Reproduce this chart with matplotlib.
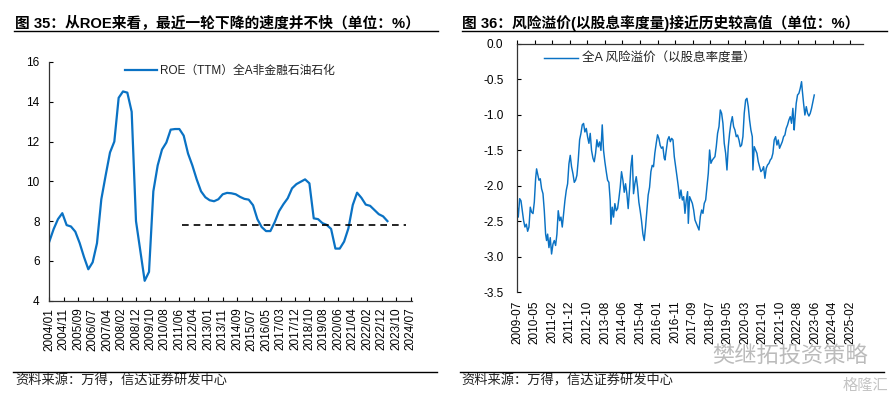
import matplotlib
matplotlib.use("Agg")
import matplotlib.pyplot as plt
from matplotlib.ticker import FormatStrFormatter
import numpy as np

plt.rcParams["font.family"] = ["Liberation Sans", "Noto Sans CJK SC"]
plt.rcParams["axes.unicode_minus"] = True

# ---- left chart: ROE (TTM), quarterly from 2004/01 ----
roe_values = [
    6.97, 7.6, 8.1, 8.4, 7.8, 7.73, 7.47, 6.9, 6.2, 5.58,
    5.93, 6.89, 9.1, 10.3, 11.45, 12.0, 14.2, 14.52, 14.46, 13.5,
    8.0, 6.5, 5.0, 5.45, 9.5, 10.8, 11.6, 11.95, 12.6, 12.63,
    12.63, 12.3, 11.4, 10.8, 10.1, 9.5, 9.2, 9.05, 9.0, 9.1,
    9.35, 9.42, 9.4, 9.35, 9.22, 9.12, 9.08, 8.8, 8.1, 7.7,
    7.5, 7.5, 7.95, 8.5, 8.85, 9.15, 9.65, 9.86, 9.98, 10.1,
    9.9, 8.14, 8.1, 7.9, 7.81, 7.61, 6.62, 6.62, 6.97, 7.64,
    8.81, 9.43, 9.17, 8.83, 8.77, 8.56, 8.35, 8.24, 8.0,
]
roe_months = np.arange(len(roe_values)) * 3  # months since 2004/01
roe_ref_level = 7.83
roe_ref_span = [92, 247]
roe_ticklabels = [
    "2004/01", "2004/11", "2005/09", "2006/07", "2007/04", "2008/02",
    "2008/12", "2009/10", "2010/08", "2011/06", "2012/04", "2013/01",
    "2013/11", "2014/09", "2015/07", "2016/05", "2017/03", "2017/12",
    "2018/10", "2019/08", "2020/06", "2021/04", "2022/02", "2022/12",
    "2023/10", "2024/07",
]

# ---- right chart: equity risk premium (dividend yield), trading days from 2009-07 ----
rp_days = [
    0, 11, 27, 42, 57, 72, 87, 103, 118, 133,
    148, 163, 179, 194, 209, 220, 232, 247, 262, 277,
    293, 308, 323, 334, 346, 361, 376, 391, 407, 422,
    437, 452, 467, 483, 498, 513, 528, 543, 559, 574,
    589, 604, 619, 635, 650, 665, 680, 695, 711, 726,
    741, 756, 771, 787, 802, 817, 832, 847, 863, 878,
    893, 908, 923, 939, 954, 969, 984, 999, 1015, 1030,
    1045, 1060, 1068, 1083, 1098, 1113, 1129, 1144, 1159, 1174,
    1189, 1205, 1220, 1235, 1250, 1265, 1281, 1296, 1311, 1326,
    1341, 1357, 1372, 1387, 1402, 1417, 1433, 1448, 1463, 1478,
    1493, 1509, 1524, 1539, 1554, 1569, 1585, 1600, 1615, 1630,
    1645, 1661, 1676,
    1685, 1700, 1715, 1731, 1746, 1761, 1776, 1791, 1807, 1822,
    1837, 1852, 1867, 1883, 1898, 1913, 1928, 1943, 1951, 1966,
    1981, 1997, 2012, 2027, 2042, 2057, 2073, 2088, 2103, 2118,
    2133, 2149, 2164, 2179, 2194, 2209, 2225, 2240, 2255, 2270,
    2285, 2301, 2316, 2331, 2346, 2361, 2377, 2392, 2407, 2422,
    2437, 2453, 2468, 2483, 2498, 2513, 2529, 2544, 2559, 2574,
    2589, 2605, 2620, 2635, 2650, 2665, 2681, 2688, 2703, 2719,
    2734, 2749, 2764, 2779, 2795, 2810, 2825, 2840, 2855, 2871,
    2886, 2901, 2916, 2931, 2947, 2962, 2977, 2992, 3007, 3023,
    3038, 3053, 3068, 3083, 3099, 3114, 3129, 3144, 3159, 3167,
    3182, 3197, 3213, 3228, 3243, 3251, 3266, 3281, 3297, 3312,
    3327, 3342, 3357, 3373, 3388,
]
rp_values = [
    -2.30, -2.44, -2.18, -2.21, -2.35, -2.49, -2.58, -2.54, -2.64, -2.58,
    -2.30, -2.37, -2.39, -2.23, -1.90, -1.76, -1.83, -1.92, -1.90, -2.04,
    -2.11, -2.35, -2.68, -2.77, -2.68, -2.87, -2.73, -2.96, -2.82, -2.77,
    -2.84, -2.68, -2.35, -2.49, -2.44, -2.58, -2.39, -2.21, -2.06, -1.97,
    -1.69, -1.57, -1.73, -1.83, -1.95, -1.92, -1.85, -1.64, -1.35, -1.26,
    -1.14, -1.12, -1.24, -1.19, -1.31, -1.40, -1.26, -1.50, -1.61, -1.66,
    -1.54, -1.35, -1.45, -1.38, -1.50, -1.14, -1.50, -1.66, -1.80, -1.92,
    -1.95, -2.21, -2.54, -2.30, -2.44, -2.25, -2.35, -2.32, -2.18, -2.02,
    -1.80, -1.92, -2.09, -1.97, -2.11, -2.32, -2.04, -1.73, -1.57, -2.11,
    -1.97, -1.87, -2.02, -2.23, -2.35, -2.49, -2.68, -2.77, -2.58, -2.35,
    -2.13, -2.02, -1.80, -1.71, -1.73, -1.54, -1.40, -1.28, -1.33, -1.43,
    -1.47, -1.45, -1.61,
    -1.635, -1.494, -1.353, -1.306, -1.377, -1.330, -1.353, -1.588, -1.729, -1.870,
    -2.011, -2.175, -2.058, -2.199, -2.152, -2.387, -2.199, -2.081, -2.528, -2.152,
    -2.199, -2.246, -2.340, -2.481, -2.528, -2.575, -2.622, -2.434, -2.340, -2.387,
    -2.246, -2.199, -2.011, -1.823, -1.494, -1.682, -1.635, -1.611, -1.588, -1.447,
    -1.259, -1.165, -0.930, -0.977, -1.118, -1.400, -1.541, -1.776, -1.447, -1.259,
    -1.118, -1.024, -1.165, -1.212, -1.306, -1.283, -1.353, -1.447, -1.424, -1.306,
    -0.977, -0.789, -0.766, -0.883, -1.071, -1.212, -1.306, -1.776, -1.447, -1.494,
    -1.541, -1.658, -1.729, -1.799, -1.776, -1.729, -1.893, -1.752, -1.705, -1.682,
    -1.635, -1.611, -1.541, -1.353, -1.306, -1.424, -1.353, -1.470, -1.424, -1.377,
    -1.306, -1.283, -1.189, -1.142, -1.071, -1.024, -1.118, -0.907, -1.212, -1.071,
    -0.836, -0.719, -0.695, -0.625, -0.531, -0.648, -0.836, -1.001, -0.883, -0.977,
    -1.015, -0.977, -0.907, -0.813, -0.719,
]
rp_ticklabels = [
    "2009-07", "2010-05", "2011-02", "2011-12", "2012-10", "2013-08",
    "2014-06", "2015-04", "2016-01", "2016-11", "2017-09", "2018-07",
    "2019-05", "2020-03", "2021-01", "2021-10", "2022-08", "2023-06",
    "2024-04", "2025-02",
]

W, H = 894, 399
LINE_BLUE = "#0a72c4"


def fx(px):
    return px / W


def fy(py):
    return 1 - py / H


fig = plt.figure(figsize=(W / 100, H / 100), dpi=100)

# titles, rules and source notes
fig.text(fx(15), fy(22.5), "图 35：从ROE来看，最近一轮下降的速度并不快（单位：%）",
         fontsize=10.6, fontweight="bold", va="center", ha="left")
fig.text(fx(462), fy(22.5), "图 36：风险溢价(以股息率度量)接近历史较高值（单位：%）",
         fontsize=10.6, fontweight="bold", va="center", ha="left")
for x0, x1 in [(14, 438), (462, 887)]:
    fig.add_artist(plt.Line2D([fx(x0), fx(x1)], [fy(31.3), fy(31.3)], color="black", lw=1.0))
for x0, x1 in [(13, 437), (460, 884)]:
    fig.add_artist(plt.Line2D([fx(x0), fx(x1)], [fy(372.3), fy(372.3)], color="black", lw=1.0))
fig.text(fx(15), fy(381), "资料来源：万得，信达证券研发中心", fontsize=9.5,
         va="center", ha="left", color="#222222", style="italic")
fig.text(fx(461), fy(381), "资料来源：万得，信达证券研发中心", fontsize=9.5,
         va="center", ha="left", color="#222222", style="italic")

# watermark
fig.text(fx(712), fy(357), "樊继拓投资策略", fontsize=16, color="#b4b4b4",
         va="center", ha="left", alpha=0.9)
fig.text(fx(843), fy(386), "格隆汇", fontsize=11, color="#c4c4c4", va="center", ha="left")

# ---- left axes ----
ax1 = fig.add_axes([fx(49.3), fy(300.7), fx(412) - fx(49.3), fy(62) - fy(300.7)])
ax1.plot(roe_months, roe_values, color=LINE_BLUE, lw=1.6,
         label="ROE（TTM）全A非金融石油石化")
ax1.plot(roe_ref_span, [roe_ref_level, roe_ref_level], color="black", lw=1.2,
         ls=(0, (4, 3)))
ax1.set_xlim(0, 251)
ax1.set_ylim(4, 16)
ax1.set_yticks(np.arange(4, 17, 2))
ax1.set_xticks(np.arange(len(roe_ticklabels)) * 10)
ax1.set_xticklabels(roe_ticklabels, rotation=90, fontsize=8.5)
ax1.tick_params(axis="y", direction="in", length=3, pad=7, labelsize=8.5)
ax1.tick_params(axis="x", direction="in", length=3, pad=5)
for s in ["top", "right"]:
    ax1.spines[s].set_visible(False)
for s in ["left", "bottom"]:
    ax1.spines[s].set_color("#333333")
    ax1.spines[s].set_linewidth(0.9)
ax1.legend(loc="center left", bbox_to_anchor=(fx(125), fy(71)),
           bbox_transform=fig.transFigure, frameon=False, fontsize=8.5,
           handlelength=2.7, handletextpad=0.3, borderpad=0, borderaxespad=0,
           labelcolor="#222222")

# ---- right axes ----
ax2 = fig.add_axes([fx(517.3), fy(292.3), fx(863) - fx(517.3), fy(44) - fy(292.3)])
ax2.plot(rp_days, rp_values, color=LINE_BLUE, lw=1.05,
         label="全A 风险溢价（以股息率度量）")
ax2.set_xlim(0, 3944)
ax2.set_ylim(-3.5, 0.0)
ax2.set_yticks(np.arange(-3.5, 0.01, 0.5))
ax2.yaxis.set_major_formatter(FormatStrFormatter("%.1f"))
ax2.set_xticks(np.arange(len(rp_ticklabels)) * 200)
ax2.set_xticklabels(rp_ticklabels, rotation=90, fontsize=8.5)
ax2.tick_params(axis="y", direction="in", length=3, pad=10, labelsize=8.5)
ax2.tick_params(axis="x", direction="out", length=3, pad=3, top=True, bottom=False,
                labeltop=False, labelbottom=True)
for s in ["bottom", "right"]:
    ax2.spines[s].set_visible(False)
for s in ["left", "top"]:
    ax2.spines[s].set_color("#333333")
    ax2.spines[s].set_linewidth(0.9)
ax2.legend(loc="center left", bbox_to_anchor=(fx(544), fy(59)),
           bbox_transform=fig.transFigure, frameon=False, fontsize=9,
           handlelength=2.7, handletextpad=0.3, borderpad=0, borderaxespad=0,
           labelcolor="#222222")

fig.savefig("out.png", dpi=100)
